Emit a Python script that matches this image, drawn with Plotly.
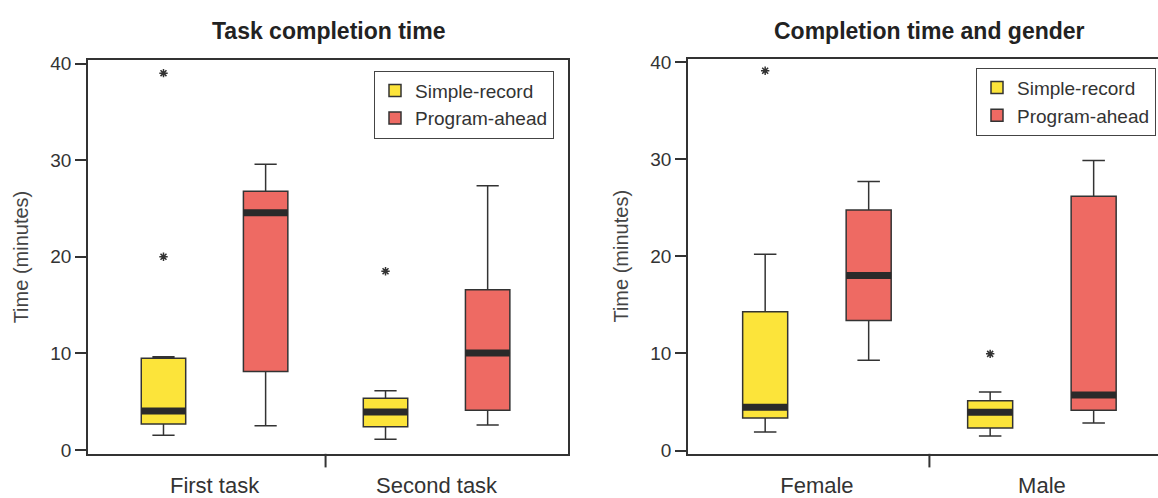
import plotly.graph_objects as go

# ---------------- data (minutes) ----------------
tasks = ["First task", "Second task"]
genders = ["Female", "Male"]
series_names = ["Simple-record", "Program-ahead"]
y_ticks = [0, 10, 20, 30, 40]

# Task completion time
task_simple_lo = [1.51, 1.10]
task_simple_q1 = [2.68, 2.41]
task_simple_med = [4.02, 3.92]
task_simple_q3 = [9.48, 5.36]
task_simple_hi = [9.64, 6.12]
task_simple_out = [[39.0, 20.0], [18.5]]

task_program_lo = [2.51, 2.58]
task_program_q1 = [8.13, 4.12]
task_program_med = [24.54, 10.04]
task_program_q3 = [26.78, 16.57]
task_program_hi = [29.56, 27.35]
task_program_out = [[], []]

# Completion time and gender
gender_simple_lo = [1.90, 1.50]
gender_simple_q1 = [3.36, 2.33]
gender_simple_med = [4.45, 3.95]
gender_simple_q3 = [14.28, 5.12]
gender_simple_hi = [20.20, 6.02]
gender_simple_out = [[39.1], [9.95]]

gender_program_lo = [9.29, 2.83]
gender_program_q1 = [13.38, 4.15]
gender_program_med = [18.03, 5.72]
gender_program_q3 = [24.76, 26.19]
gender_program_hi = [27.69, 29.85]
gender_program_out = [[], []]

# ---------------- style ----------------
FONT = "Liberation Sans, Arial, sans-serif"
INK = "#333333"
FILLS = ["#FCE43A", "#EE6A63"]
W, H = 1158, 498

fig = go.Figure()


def add_group(cats, stats, xa, ya, legend, fill, name, gid):
    lo, q1, med, q3, hi, out = stats
    if any(len(o) for o in out):
        kw = dict(y=out, boxpoints="outliers", jitter=0, pointpos=0)
    else:
        kw = dict(boxpoints=False)
    fig.add_trace(go.Box(
        x=cats, q1=q1, median=med, q3=q3, lowerfence=lo, upperfence=hi,
        orientation="v", name=name, xaxis=xa, yaxis=ya, legend=legend,
        fillcolor=fill, line=dict(color=INK, width=1.5), whiskerwidth=0.5,
        marker=dict(symbol="asterisk-open", size=7, color=INK,
                    line=dict(width=1.5, color=INK)),
        offsetgroup=gid, alignmentgroup="a", hoverinfo="skip", **kw
    ))


def add_median(cats, med, xa, ya, gid):
    fig.add_trace(go.Box(
        x=cats, q1=med, median=med, q3=med, lowerfence=med, upperfence=med,
        orientation="v", xaxis=xa, yaxis=ya, showlegend=False,
        fillcolor="rgba(0,0,0,0)", line=dict(color="#2a2a2a", width=7),
        whiskerwidth=0, boxpoints=False,
        offsetgroup=gid, alignmentgroup="a", hoverinfo="skip",
    ))


left = [
    (series_names[0], FILLS[0], "s", (task_simple_lo, task_simple_q1, task_simple_med,
                                       task_simple_q3, task_simple_hi, task_simple_out)),
    (series_names[1], FILLS[1], "p", (task_program_lo, task_program_q1, task_program_med,
                                       task_program_q3, task_program_hi, task_program_out)),
]
right = [
    (series_names[0], FILLS[0], "s", (gender_simple_lo, gender_simple_q1, gender_simple_med,
                                       gender_simple_q3, gender_simple_hi, gender_simple_out)),
    (series_names[1], FILLS[1], "p", (gender_program_lo, gender_program_q1, gender_program_med,
                                       gender_program_q3, gender_program_hi, gender_program_out)),
]

for name, fill, gid, st in left:
    add_group(tasks, st, "x", "y", "legend", fill, name, gid)
for name, fill, gid, st in left:
    add_median(tasks, st[2], "x", "y", gid)
for name, fill, gid, st in right:
    add_group(genders, st, "x2", "y2", "legend2", fill, name, gid)
for name, fill, gid, st in right:
    add_median(genders, st[2], "x2", "y2", gid)

xr1 = [-0.570, 1.591]
xr2 = [-0.573, 1.516]

xcommon = dict(type="category", showline=True, linecolor=INK, linewidth=1.5,
               ticks="outside", tickcolor="rgba(0,0,0,0)", ticklen=11,
               showgrid=False, zeroline=False,
               tickfont=dict(family=FONT, size=22, color=INK))
ycommon = dict(showline=True, linecolor=INK, linewidth=1.5, ticks="outside",
               tickcolor=INK, tickwidth=1.5, ticklen=11, tickvals=y_ticks,
               showgrid=False, zeroline=False,
               tickfont=dict(family=FONT, size=19, color=INK),
               title=dict(text="Time (minutes)", standoff=16,
                          font=dict(family=FONT, size=20, color="#444")))

fig.update_layout(
    width=W, height=H, margin=dict(l=0, r=0, t=0, b=0),
    paper_bgcolor="white", plot_bgcolor="white",
    boxmode="group", boxgap=0.08, boxgroupgap=0.565,
    font=dict(family=FONT, color=INK),
    xaxis=dict(domain=[88 / W, 567.8 / W], range=xr1, mirror=True, anchor="y", **xcommon),
    yaxis=dict(domain=[0.0749, 0.8896], range=[-0.40, 40.33], mirror=True, anchor="x", **ycommon),
    xaxis2=dict(domain=[688 / W, 1.0], range=xr2, mirror=True, anchor="y2", **xcommon),
    yaxis2=dict(domain=[0.0749, 0.893], range=[-0.34, 40.34], mirror=False, anchor="x2", **ycommon),
    legend=dict(x=374 / W, y=(H - 65.5) / H, xanchor="left", yanchor="top",
                bgcolor="white", bordercolor="#444", borderwidth=1,
                font=dict(family=FONT, size=19, color=INK)),
    legend2=dict(x=976 / W, y=(H - 62.5) / H, xanchor="left", yanchor="top",
                 bgcolor="white", bordercolor="#444", borderwidth=1,
                 font=dict(family=FONT, size=19, color=INK)),
    showlegend=True,
)

# separator tick between the two categories (category boundary at 0.5)
for xref, yref, xr, dom in (("x domain", "y domain", xr1, 405.7), ("x2 domain", "y2 domain", xr2, 407.4)):
    xb = (0.5 - xr[0]) / (xr[1] - xr[0])
    fig.add_shape(type="line", xref=xref, yref=yref, x0=xb, x1=xb, y0=0, y1=-14 / dom,
                  line=dict(color=INK, width=2))

# titles
fig.add_annotation(text="<b>Task completion time</b>", x=328 / W, y=(H - 25) / H,
                   xref="paper", yref="paper", showarrow=False, xanchor="center", yanchor="middle",
                   font=dict(family=FONT, size=23, color="#222"))
fig.add_annotation(text="<b>Completion time and gender</b>", x=929 / W, y=(H - 25) / H,
                   xref="paper", yref="paper", showarrow=False, xanchor="center", yanchor="middle",
                   font=dict(family=FONT, size=23, color="#222"))

fig.write_html("out.html")
